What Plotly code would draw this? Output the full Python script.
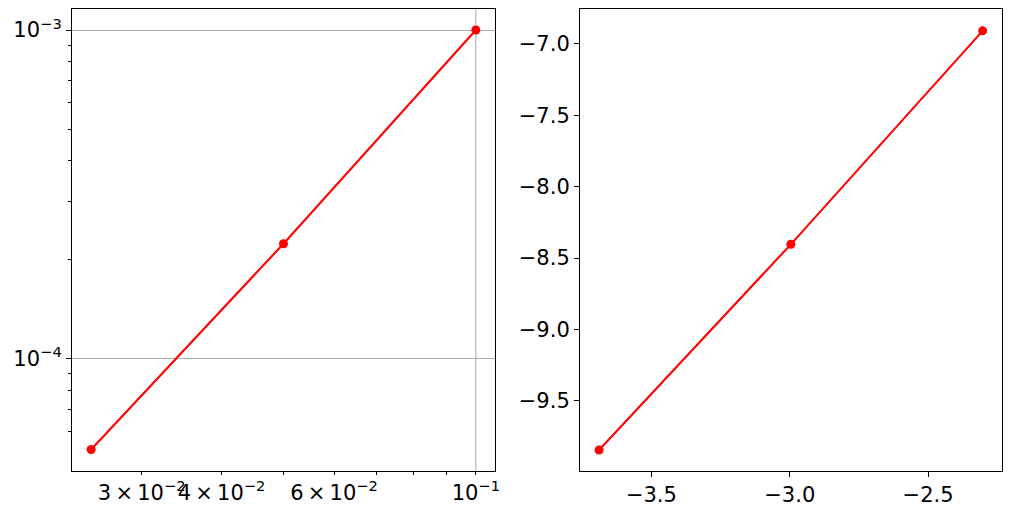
import plotly.graph_objects as go

# data
h_vals = [0.025, 0.05, 0.1]
err_vals = [5.3e-5, 2.24e-4, 1.0e-3]
log_h = [-3.689, -2.996, -2.303]
log_err = [-9.845, -8.404, -6.908]

x_tick_vals = [0.03, 0.04, 0.06, 0.1]
x_tick_text = ["3\u2009×\u200910<sup>−2</sup>", "4\u2009×\u200910<sup>−2</sup>",
               "6\u2009×\u200910<sup>−2</sup>", "10<sup>−1</sup>"]
x_minor = [0.05, 0.07, 0.08, 0.09]
x_grid = [0.1]
y_major = [1e-4, 1e-3]
y_major_text = ["10<sup>−4</sup>", "10<sup>−3</sup>"]
y_minor = [6e-5, 7e-5, 8e-5, 9e-5, 2e-4, 3e-4, 4e-4, 5e-4, 6e-4, 7e-4, 8e-4, 9e-4]
r_xticks = [-3.5, -3.0, -2.5]
r_xtext = ["−3.5", "−3.0", "−2.5"]
r_yticks = [-9.5, -9.0, -8.5, -8.0, -7.5, -7.0]
r_ytext = ["−9.5", "−9.0", "−8.5", "−8.0", "−7.5", "−7.0"]

RED = "#ff0000"
GRID = "#b0b0b0"
FONT = dict(family="DejaVu Sans", size=21, color="black")

fig = go.Figure()
fig.add_trace(go.Scatter(x=h_vals, y=err_vals, mode="lines+markers",
                         line=dict(color=RED, width=2.1),
                         marker=dict(color=RED, size=9),
                         xaxis="x", yaxis="y", showlegend=False))
fig.add_trace(go.Scatter(x=log_h, y=log_err, mode="lines+markers",
                         line=dict(color=RED, width=2.1),
                         marker=dict(color=RED, size=9),
                         xaxis="x2", yaxis="y2", showlegend=False))

for gx in x_grid:
    fig.add_shape(type="line", xref="x", yref="y domain", x0=gx, x1=gx, y0=0, y1=1,
                  line=dict(color=GRID, width=1.1), layer="below")

xl_range = [-1.632, -0.970]
yl_range = [-4.341, -2.936]
d1 = [72/1012, 495/1012]
d2 = [580/1012, 1002/1012]
dy = [45/516, 507/516]

common = dict(showline=True, mirror=True, linecolor="black", linewidth=1.1,
              ticks="outside", tickcolor="black", tickwidth=1.1,
              tickfont=FONT, zeroline=False, automargin=False)

fig.update_layout(
    width=1012, height=516, autosize=False,
    margin=dict(l=0, r=0, t=0, b=0, pad=0),
    paper_bgcolor="white", plot_bgcolor="white",
    xaxis=dict(domain=d1, type="log", range=xl_range, anchor="y",
               tickvals=x_tick_vals, ticktext=x_tick_text, ticklen=3,
               showgrid=False, tickangle=0,
               minor=dict(tickvals=x_minor, ticklen=3, ticks="outside",
                          tickcolor="black", tickwidth=0.9, showgrid=False),
               **common),
    yaxis=dict(domain=dy, type="log", range=yl_range, anchor="x",
               tickvals=y_major, ticktext=y_major_text, ticklen=5,
               showgrid=True, gridcolor=GRID, gridwidth=1.1,
               minor=dict(tickvals=y_minor, ticklen=3, ticks="outside",
                          tickcolor="black", tickwidth=0.9, showgrid=False),
               **common),
    xaxis2=dict(domain=d2, range=[-3.758, -2.233], anchor="y2",
                tickvals=r_xticks, ticktext=r_xtext, ticklen=5,
                showgrid=False, tickangle=0, **common),
    yaxis2=dict(domain=dy, range=[-9.992, -6.755], anchor="x2",
                tickvals=r_yticks, ticktext=r_ytext,
                ticklen=5, showgrid=False, **common),
)

fig.write_html(
    "out.html",
    config={"displayModeBar": False, "responsive": False},
    post_script=("document.body.style.margin='0';"
                 "document.body.style.overflow='hidden';"
                 "document.documentElement.style.overflow='hidden';"),
)
